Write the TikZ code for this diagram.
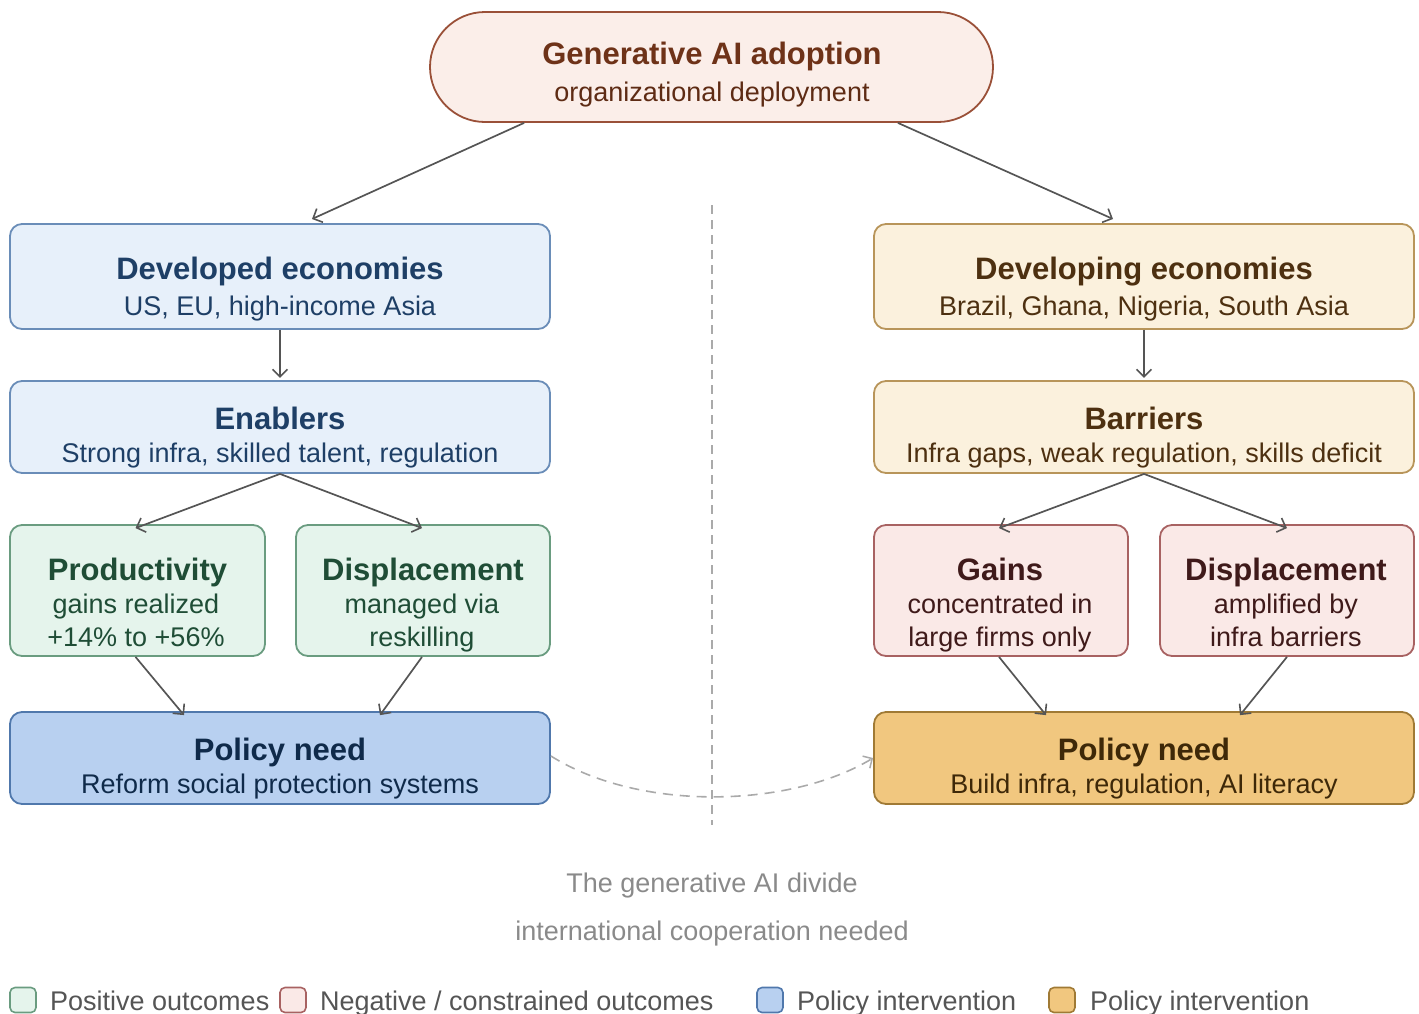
\documentclass[tikz,border=0pt]{standalone}
\usepackage{fontspec}
\setmainfont{Liberation Sans}
\usetikzlibrary{arrows.meta}

\definecolor{topfill}{HTML}{FBEEE9}
\definecolor{topdraw}{HTML}{9A5038}
\definecolor{toptext}{HTML}{6E3218}
\definecolor{devfill}{HTML}{E7F0FA}
\definecolor{devdraw}{HTML}{6A8DB8}
\definecolor{devtext}{HTML}{1E3F66}
\definecolor{posfill}{HTML}{E5F4EC}
\definecolor{posdraw}{HTML}{6A9C80}
\definecolor{postext}{HTML}{1F4D36}
\definecolor{lowfill}{HTML}{FBF1DD}
\definecolor{lowdraw}{HTML}{B8955A}
\definecolor{lowtext}{HTML}{4D3010}
\definecolor{negfill}{HTML}{FAE9E7}
\definecolor{negdraw}{HTML}{A86262}
\definecolor{negtext}{HTML}{3F1A1A}
\definecolor{bluefill}{HTML}{B8D0F0}
\definecolor{bluedraw}{HTML}{5078AC}
\definecolor{bluetext}{HTML}{0F2A4A}
\definecolor{orfill}{HTML}{F1C77F}
\definecolor{ordraw}{HTML}{A07A35}
\definecolor{ortext}{HTML}{3E2808}
\definecolor{arrowgray}{HTML}{555555}
\definecolor{dashgray}{HTML}{AAAAAA}
\definecolor{notegray}{HTML}{8A8A8A}
\definecolor{legtext}{HTML}{555555}

\tikzset{
  box/.style={rounded corners=12pt, line width=1.8pt, inner sep=0pt},
  ttl/.style={anchor=base, inner sep=0pt, font=\fontsize{31}{35}\selectfont\bfseries},
  sub/.style={anchor=base, inner sep=0pt, font=\fontsize{27}{32}\selectfont},
  flow/.style={draw=arrowgray, line width=1.7pt, -{Straight Barb[length=7.5pt,width=15pt,line width=1.6pt]}},
  legbox/.style={rounded corners=5pt, line width=1.6pt, minimum width=26pt, minimum height=25pt, inner sep=0pt},
  legtxt/.style={anchor=base west, inner sep=0pt, text=legtext, font=\fontsize{27}{32}\selectfont}
}

\begin{document}
\begin{tikzpicture}[x=1pt,y=-1pt]
\useasboundingbox (0,0) rectangle (1419,1013);
\clip (0,0) rectangle (1419,1013);

% top node
\node[box, rounded corners=55pt, draw=topdraw, fill=topfill, minimum width=563pt, minimum height=110pt] (top) at (711.5,67) {};
\node[ttl, text=toptext] (topT) at (712,64) {Generative AI adoption};
\node[sub, text=toptext!85!black] (topS) at (712,101) {organizational deployment};

% divider
\coordinate (divA) at (712,205);
\coordinate (divB) at (712,825);
\draw[dashgray, line width=1.6pt, dash pattern=on 9pt off 6pt] (divA) -- (divB);

% left column
\node[box, draw=devdraw, fill=devfill, minimum width=540pt, minimum height=105pt] (dev) at (280,276.5) {};
\node[ttl, text=devtext] (devT) at (280,279) {Developed economies};
\node[sub, text=devtext] (devS) at (280,315) {US, EU, high-income Asia};

\node[box, draw=devdraw, fill=devfill, minimum width=540pt, minimum height=92pt] (ena) at (280,427) {};
\node[ttl, text=devtext] (enaT) at (280,429) {Enablers};
\node[sub, text=devtext] (enaS) at (280,462) {Strong infra, skilled talent, regulation};

\node[box, draw=posdraw, fill=posfill, minimum width=255pt, minimum height=131pt] (prod) at (137.5,590.5) {};
\node[ttl, text=postext] (prodT) at (137.5,580) {Productivity};
\node[sub, text=postext] (prodS) at (136,613) {gains realized};
\node[sub, text=postext] (prodU) at (136,646) {+14\% to +56\%};

\node[box, draw=posdraw, fill=posfill, minimum width=254pt, minimum height=131pt] (dispL) at (423,590.5) {};
\node[ttl, text=postext] (dispLT) at (423,580) {Displacement};
\node[sub, text=postext] (dispLS) at (422,613) {managed via};
\node[sub, text=postext] (dispLU) at (422,646) {reskilling};

\node[box, draw=bluedraw, fill=bluefill, minimum width=540pt, minimum height=92pt] (polL) at (280,758) {};
\node[ttl, text=bluetext] (polLT) at (280,760) {Policy need};
\node[sub, text=bluetext] (polLS) at (280,793) {Reform social protection systems};

% right column
\node[box, draw=lowdraw, fill=lowfill, minimum width=540pt, minimum height=105pt] (dvg) at (1144,276.5) {};
\node[ttl, text=lowtext] (dvgT) at (1144,279) {Developing economies};
\node[sub, text=lowtext] (dvgS) at (1144,315) {Brazil, Ghana, Nigeria, South Asia};

\node[box, draw=lowdraw, fill=lowfill, minimum width=540pt, minimum height=92pt] (bar) at (1144,427) {};
\node[ttl, text=lowtext] (barT) at (1144,429) {Barriers};
\node[sub, text=lowtext] (barS) at (1144,462) {Infra gaps, weak regulation, skills deficit};

\node[box, draw=negdraw, fill=negfill, minimum width=254pt, minimum height=131pt] (gain) at (1001,590.5) {};
\node[ttl, text=negtext] (gainT) at (1000,580) {Gains};
\node[sub, text=negtext] (gainS) at (1000,613) {concentrated in};
\node[sub, text=negtext] (gainU) at (1000,646) {large firms only};

\node[box, draw=negdraw, fill=negfill, minimum width=254pt, minimum height=131pt] (dispR) at (1287,590.5) {};
\node[ttl, text=negtext] (dispRT) at (1286,580) {Displacement};
\node[sub, text=negtext] (dispRS) at (1286,613) {amplified by};
\node[sub, text=negtext] (dispRU) at (1286,646) {infra barriers};

\node[box, draw=ordraw, fill=orfill, minimum width=540pt, minimum height=92pt] (polR) at (1144,758) {};
\node[ttl, text=ortext] (polRT) at (1144,760) {Policy need};
\node[sub, text=ortext] (polRS) at (1144,793) {Build infra, regulation, AI literacy};

% connectors
\coordinate (devIn) at (312,219);
\coordinate (dvgIn) at (1113,219);
\draw[flow] (top.south west) ++(95,0) -- (devIn);
\draw[flow] (top.south east) ++(-96,0) -- (dvgIn);

\draw[flow] (dev.south) -- ++(0,48);
\draw[flow] (ena.south) -- ([xshift=-2pt,yshift=-4pt]prod.north);
\draw[flow] (ena.south) -- ([xshift=-1pt,yshift=-4pt]dispL.north);
\draw[flow] ([xshift=-2pt]prod.south) -- ([xshift=-96pt,yshift=-4pt]polL.north);
\draw[flow] ([xshift=-1pt]dispL.south) -- ([xshift=100pt,yshift=-4pt]polL.north);

\draw[flow] (dvg.south) -- ++(0,48);
\draw[flow] (bar.south) -- ([xshift=-2pt,yshift=-4pt]gain.north);
\draw[flow] (bar.south) -- ([xshift=0pt,yshift=-4pt]dispR.north);
\draw[flow] ([xshift=-2pt]gain.south) -- ([xshift=-98pt,yshift=-4pt]polR.north);
\draw[flow] ([xshift=0pt]dispR.south) -- ([xshift=96pt,yshift=-4pt]polR.north);

% cross link between the two policy boxes
\draw[dashgray, line width=1.6pt, dash pattern=on 10pt off 7pt,
      -{Straight Barb[length=7pt,width=14pt,line width=1.5pt]}]
  ([yshift=2pt]polL.east) .. controls (640,812) and (790,808) .. ([yshift=0pt]polR.west);

% caption
\node[sub, text=notegray] (cap1) at (712,892) {The generative AI divide};
\node[sub, text=notegray] (cap2) at (712,940) {international cooperation needed};

% legend
\node[legbox, draw=posdraw, fill=posfill] (lg1) at (23,1000) {};
\node[legtxt] (lt1) at (50,1010) {Positive outcomes};
\node[legbox, draw=negdraw, fill=negfill] (lg2) at (293,1000) {};
\node[legtxt] (lt2) at (320,1010) {Negative / constrained outcomes};
\node[legbox, draw=bluedraw, fill=bluefill] (lg3) at (770,1000) {};
\node[legtxt] (lt3) at (797,1010) {Policy intervention};
\node[legbox, draw=ordraw, fill=orfill] (lg4) at (1062,1000) {};
\node[legtxt] (lt4) at (1090,1010) {Policy intervention};
\end{tikzpicture}
\end{document}
